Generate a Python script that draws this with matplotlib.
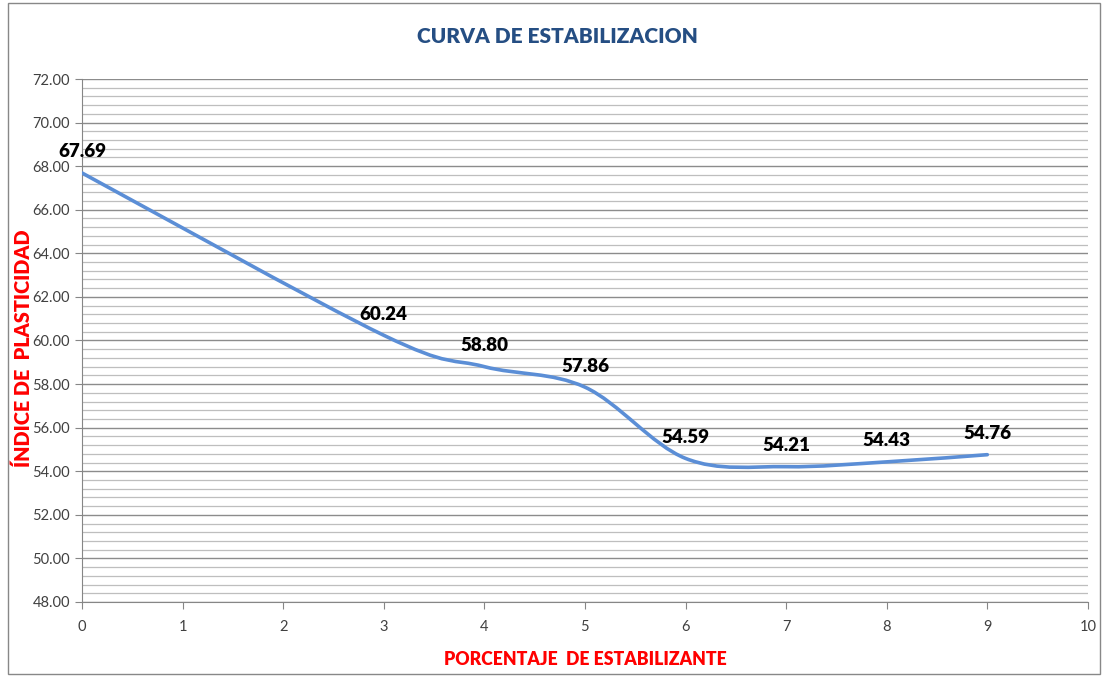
import numpy as np
import matplotlib
matplotlib.use('Agg')
import matplotlib.pyplot as plt
from matplotlib.path import Path
from matplotlib.patches import PathPatch, Rectangle
from matplotlib.ticker import MultipleLocator, FormatStrFormatter

plt.rcParams['font.family'] = ['Lato', 'DejaVu Sans']

# data
porcentaje = [0, 3, 4, 5, 6, 7, 8, 9]
indice = [67.69, 60.24, 58.80, 57.86, 54.59, 54.21, 54.43, 54.76]
etiquetas = ['67.69', '60.24', '58.80', '57.86', '54.59', '54.21', '54.43', '54.76']

fig = plt.figure(figsize=(11.03, 6.77), dpi=100)
ax = fig.add_axes([0.0743, 0.1108, 0.912, 0.7725])

# smoothed line like Excel (cubic bezier, catmull-rom style control points)
pts = np.column_stack([porcentaje, indice]).astype(float)
verts = [tuple(pts[0])]
codes = [Path.MOVETO]
n = len(pts)
for i in range(n - 1):
    p0 = pts[i - 1] if i > 0 else pts[i]
    p1 = pts[i]
    p2 = pts[i + 1]
    p3 = pts[i + 2] if i + 2 < n else pts[i + 1]
    c1 = p1 + (p2 - p0) / 6.0
    c2 = p2 - (p3 - p1) / 6.0
    verts += [tuple(c1), tuple(c2), tuple(p2)]
    codes += [Path.CURVE4] * 3
ax.add_patch(PathPatch(Path(verts, codes), facecolor='none',
                       edgecolor='#5B8ED6', lw=2.6, capstyle='round', zorder=3))

for x, y, t in zip(porcentaje, indice, etiquetas):
    ax.annotate(t, (x, y), xytext=(0, 9), textcoords='offset points',
                ha='center', va='bottom', fontsize=13.5, fontweight='heavy',
                color='#000000', zorder=4)

ax.set_xlim(0, 10)
ax.set_ylim(48, 72)
ax.xaxis.set_major_locator(MultipleLocator(1))
ax.yaxis.set_major_locator(MultipleLocator(2))
ax.yaxis.set_minor_locator(MultipleLocator(0.4))
ax.yaxis.set_major_formatter(FormatStrFormatter('%.2f'))

ax.grid(True, which='major', axis='y', color='#8C8C8C', lw=1.0)
ax.grid(True, which='minor', axis='y', color='#BEBEBE', lw=0.9)
ax.set_axisbelow(True)

for s in ['top', 'right']:
    ax.spines[s].set_visible(False)
for s in ['left', 'bottom']:
    ax.spines[s].set_color('#868686')
ax.tick_params(axis='both', which='major', direction='out', length=5,
               color='#868686', labelsize=10.5, labelcolor='#404040')
ax.tick_params(axis='x', pad=8)
ax.tick_params(axis='y', which='minor', length=0)

ax.set_xlabel('PORCENTAJE  DE ESTABILIZANTE', color='#FF0000', fontsize=12.7,
              fontweight='heavy', labelpad=12)
ax.set_ylabel('ÍNDICE DE  PLASTICIDAD', color='#FF0000', fontsize=14.3,
              fontweight='heavy', labelpad=0)
ax.yaxis.set_label_coords(-0.049, 0.486)

fig.text(0.505, 0.946, 'CURVA DE ESTABILIZACION', ha='center', va='center',
         fontsize=15, fontweight='heavy', color='#254E83')

fig.patches.append(Rectangle((0.007, 0.004), 0.99, 0.992, transform=fig.transFigure,
                             fill=False, edgecolor='#888888', lw=1.0))

fig.savefig('out.png', dpi=100)
